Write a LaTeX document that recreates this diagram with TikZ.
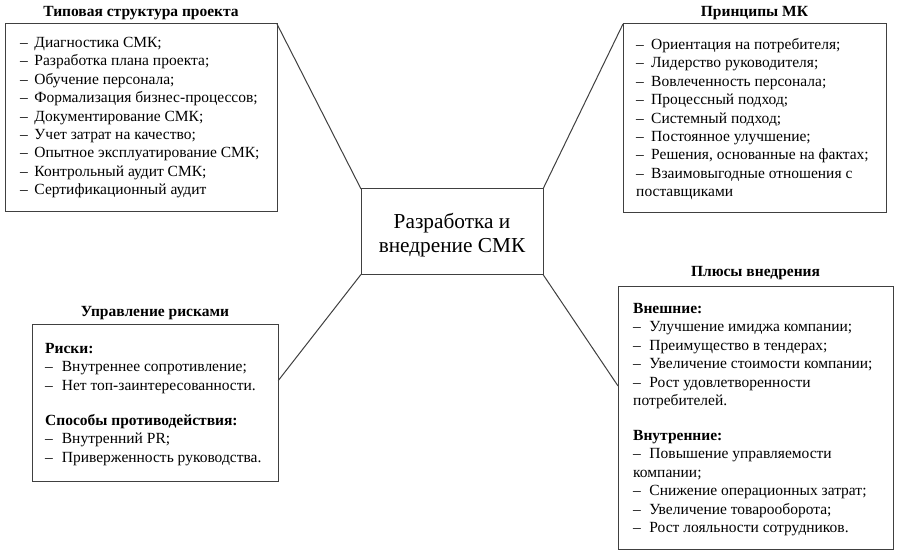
\documentclass[tikz,border=0pt]{standalone}
\usepackage{fontspec}
\setmainfont{Liberation Serif}
\usetikzlibrary{calc}
\tikzset{
 panel/.style={draw=black!75, line width=1pt, inner sep=0pt, outer sep=0pt},
 body/.style={anchor=north west, inner sep=0pt, align=left, font=\fontsize{15.5}{18.4}\selectfont},
 ttl/.style={anchor=base, inner sep=0pt, font=\fontsize{15.5}{18.4}\selectfont\bfseries},
 link/.style={draw=black!75, line width=1pt},
}
\newcommand{\dA}{\makebox[14.3pt][l]{–}}
\newcommand{\dB}{\makebox[15pt][l]{–}}
\newcommand{\dC}{\makebox[16.7pt][l]{–}}
\newcommand{\dD}{\makebox[16.3pt][l]{–}}
\begin{document}
\begin{tikzpicture}[x=1pt,y=-1pt]
\path[use as bounding box, fill=white] (0,0) rectangle (899,556);

% boxes
\node[panel, minimum width=272pt, minimum height=187pt] (b1) at (141,117.5) {};
\node[panel, minimum width=263pt, minimum height=188pt] (b2) at (754.5,118) {};
\node[panel, minimum width=246.3pt, minimum height=157pt] (b3) at (155.15,402.5) {};
\node[panel, minimum width=275pt, minimum height=263pt] (b4) at (755.5,417.5) {};

% centre
\node[panel, minimum width=182pt, minimum height=85.5pt, align=center,
      font=\fontsize{21.3}{24.5}\selectfont] (c) at (452,231.7)
      {\rule{0pt}{21.7pt}Разработка и\\внедрение СМК};

% titles
\node[ttl] (h1) at (141,16.7) {Типовая структура проекта};
\node[ttl] (h2) at (754.5,17) {Принципы МК};
\node[ttl] (h3) at (155,316.7) {Управление рисками};
\node[ttl] (h4) at (755.5,276.7) {Плюсы внедрения};

% bodies
\node[body] (t1) at (20,34.4) {\strut\dA Диагностика СМК;\\
\dA Разработка плана проекта;\\
\dA Обучение персонала;\\
\dA Формализация бизнес-процессов;\\
\dA Документирование СМК;\\
\dA Учет затрат на качество;\\
\dA Опытное эксплуатирование СМК;\\
\dA Контрольный аудит СМК;\\
\dA Сертификационный аудит};

\node[body] (t2) at (636,36.4) {\strut\dB Ориентация на потребителя;\\
\dB Лидерство руководителя;\\
\dB Вовлеченность персонала;\\
\dB Процессный подход;\\
\dB Системный подход;\\
\dB Постоянное улучшение;\\
\dB Решения, основанные на фактах;\\
\dB Взаимовыгодные отношения с\\
поставщиками};

\node[body] (t3) at (45,340.4) {\strut\textbf{Риски:}\\
\dC Внутреннее сопротивление;\\
\dC Нет топ-заинтересованности.\\[16.6pt]
\textbf{Способы противодействия:}\\
\dC Внутренний PR;\\
\dC Приверженность руководства.};

\node[body] (t4) at (633,300.4) {\strut\textbf{Внешние:}\\
\dD Улучшение имиджа компании;\\
\dD Преимущество в тендерах;\\
\dD Увеличение стоимости компании;\\
\dD Рост удовлетворенности\\
потребителей.\\[16.6pt]
\textbf{Внутренние:}\\
\dD Повышение управляемости\\
компании;\\
\dD Снижение операционных затрат;\\
\dD Увеличение товарооборота;\\
\dD Рост лояльности сотрудников.};

% connectors
\draw[link] (c.north west) -- (b1.north east);
\draw[link] (c.north east) -- (b2.north west);
\draw[link] (c.south west) -- ($(b3.north east)!0.36!(b3.south east)$);
\draw[link] (c.south east) -- ($(b4.north west)!0.38!(b4.south west)$);
\end{tikzpicture}
\end{document}
